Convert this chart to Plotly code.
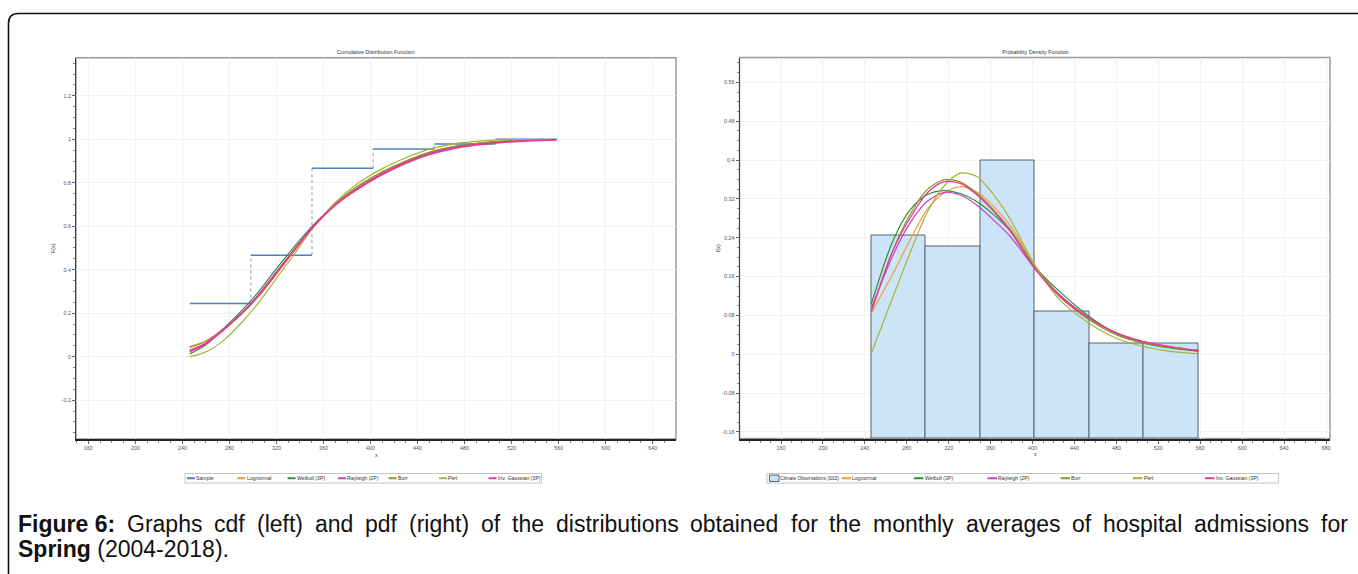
import plotly.graph_objects as go

W, H = 1358, 574

# ---------------- data ----------------
# histogram of the observations (bin edges in x units, relative frequencies)
bin_edges = [246.2, 298.2, 350.2, 402.2, 454.2, 506.2, 558.2]
hist_freq = [0.2444, 0.2222, 0.4000, 0.0889, 0.0222, 0.0222]
# empirical cumulative levels of the sample at each bin
sample_cdf = [0.2444, 0.4667, 0.8667, 0.9556, 0.9778, 1.0000]

# fitted cumulative distribution functions
x_cdf = [246.2, 260, 275, 290, 305, 320, 335, 350, 370, 390, 410, 430, 450, 470, 490, 510, 530, 558.2]
cdf_lognormal = [0.042, 0.070, 0.127, 0.195, 0.280, 0.380, 0.485, 0.590, 0.705, 0.785, 0.850, 0.900, 0.940, 0.965, 0.980, 0.989, 0.994, 0.998]
cdf_weibull3p = [0.013, 0.055, 0.130, 0.210, 0.300, 0.405, 0.505, 0.598, 0.700, 0.778, 0.842, 0.895, 0.936, 0.963, 0.980, 0.990, 0.996, 0.999]
cdf_rayleigh2p = [0.023, 0.058, 0.125, 0.198, 0.287, 0.390, 0.492, 0.592, 0.700, 0.777, 0.842, 0.895, 0.937, 0.962, 0.978, 0.987, 0.994, 0.999]
cdf_burr = [0.045, 0.072, 0.128, 0.195, 0.280, 0.382, 0.487, 0.590, 0.705, 0.787, 0.850, 0.900, 0.940, 0.966, 0.981, 0.990, 0.995, 0.999]
cdf_pert = [0.000, 0.022, 0.075, 0.155, 0.250, 0.360, 0.470, 0.585, 0.710, 0.800, 0.865, 0.915, 0.955, 0.978, 0.990, 0.997, 0.999, 1.000]
cdf_invgauss3p = [0.028, 0.062, 0.124, 0.197, 0.285, 0.387, 0.490, 0.590, 0.698, 0.775, 0.838, 0.890, 0.930, 0.957, 0.974, 0.985, 0.992, 0.997]

# fitted probability density functions (scaled to the histogram)
x_pdf = [246.2, 267, 283, 299, 315, 331, 347, 363, 379, 402, 426, 454, 480, 506, 531, 558.2]
pdf_lognormal = [0.085, 0.167, 0.235, 0.297, 0.331, 0.345, 0.334, 0.304, 0.264, 0.184, 0.122, 0.076, 0.044, 0.026, 0.016, 0.008]
pdf_weibull3p = [0.104, 0.235, 0.297, 0.328, 0.337, 0.331, 0.314, 0.287, 0.253, 0.180, 0.129, 0.078, 0.043, 0.023, 0.013, 0.006]
pdf_rayleigh2p = [0.095, 0.205, 0.270, 0.314, 0.333, 0.328, 0.307, 0.276, 0.242, 0.177, 0.122, 0.074, 0.043, 0.025, 0.015, 0.007]
pdf_burr = [0.088, 0.215, 0.287, 0.338, 0.359, 0.355, 0.331, 0.297, 0.256, 0.181, 0.119, 0.071, 0.040, 0.023, 0.014, 0.008]
pdf_pert = [0.002, 0.119, 0.208, 0.290, 0.345, 0.373, 0.366, 0.328, 0.277, 0.184, 0.112, 0.064, 0.033, 0.016, 0.006, 0.001]
pdf_invgauss3p = [0.088, 0.215, 0.280, 0.331, 0.355, 0.352, 0.328, 0.294, 0.253, 0.177, 0.119, 0.074, 0.044, 0.026, 0.016, 0.008]

cdf_ticks = [-0.2, 0, 0.2, 0.4, 0.6, 0.8, 1, 1.2]
cdf_ticktext = ["-0.2", "0", "0.2", "0.4", "0.6", "0.8", "1", "1.2"]
pdf_ticks = [-0.16, -0.08, 0, 0.08, 0.16, 0.24, 0.32, 0.4, 0.48, 0.56]
pdf_ticktext = ["-0.16", "-0.08", "0", "0.08", "0.16", "0.24", "0.32", "0.4", "0.48", "0.56"]
x_ticks_left = [160, 200, 240, 280, 320, 360, 400, 440, 480, 520, 560, 600, 640]
x_ticks_right = [160, 200, 240, 280, 320, 360, 400, 440, 480, 520, 560, 600, 640, 680]

series_names = ["Lognormal", "Weibull (3P)", "Rayleigh (2P)", "Burr", "Pert", "Inv. Gaussian (3P)"]
series_colors = ["#f59a3a", "#2a8f35", "#c83fc8", "#8a9628", "#a6b23c", "#e8369a"]
series_widths = [1.2, 1.2, 1.2, 1.2, 1.2, 1.8]
cdf_series = [cdf_lognormal, cdf_weibull3p, cdf_rayleigh2p, cdf_burr, cdf_pert, cdf_invgauss3p]
pdf_series = [pdf_lognormal, pdf_weibull3p, pdf_rayleigh2p, pdf_burr, pdf_pert, pdf_invgauss3p]

caption_words = ["Figure 6:", "Graphs", "cdf", "(left)", "and", "pdf", "(right)", "of", "the",
                 "distributions", "obtained", "for", "the", "monthly", "averages", "of",
                 "hospital", "admissions", "for"]
caption_line2 = "<b>Spring</b> (2004-2018)."

SAMPLE_COLOR = "#4f7fbd"
BAR_FILL = "#cce4f8"
BAR_LINE = "#56616c"

X1_RANGE = [149.5, 659.8]
Y1_RANGE = [-0.3786, 1.3753]
X2_RANGE = [120.4, 683.8]
Y2_RANGE = [-0.1734, 0.6111]

FONT = "Liberation Sans, Arial, sans-serif"
SMALL = 5.4        # chart text size
LEG = 5.2          # legend text size
CAP = 23           # caption size

# advance widths (1/1000 em) of Liberation Sans / Arial, used to justify the caption
REG_W = {" ": 278, "G": 778, "r": 333, "a": 556, "p": 556, "h": 556, "s": 500, "c": 500,
         "d": 556, "f": 278, "(": 333, ")": 333, "l": 222, "e": 556, "t": 278, "n": 556,
         "i": 222, "g": 556, "o": 556, "u": 556, "b": 556, "m": 833, "y": 500, "v": 500}
BOLD_W = {" ": 278, "F": 611, "i": 278, "g": 611, "u": 611, "r": 389, "e": 556, "6": 556, ":": 333}


def fx(px):
    return px / W


def fy(py):
    return 1 - py / H


def str_width(s, size, bold=False):
    table = BOLD_W if bold else REG_W
    return sum(table.get(ch, 556) for ch in s) * size / 1000.0


fig = go.Figure()

# ---------------- CDF panel ----------------
hx, hy, vx, vy = [], [], [], []
for i, lvl in enumerate(sample_cdf):
    hx += [bin_edges[i], bin_edges[i + 1], None]
    hy += [lvl, lvl, None]
    if i > 0:
        vx += [bin_edges[i], bin_edges[i], None]
        vy += [sample_cdf[i - 1], lvl, None]

fig.add_trace(go.Scatter(x=vx, y=vy, mode="lines", xaxis="x", yaxis="y",
                         line=dict(color="#8098ba", width=1, dash="dot"),
                         showlegend=False, hoverinfo="skip"))
fig.add_trace(go.Scatter(x=hx, y=hy, mode="lines", xaxis="x", yaxis="y", name="Sample",
                         line=dict(color=SAMPLE_COLOR, width=1.5), showlegend=False))
for name, col, wd, ys in zip(series_names, series_colors, series_widths, cdf_series):
    fig.add_trace(go.Scatter(x=x_cdf, y=ys, mode="lines", xaxis="x", yaxis="y", name=name,
                             line=dict(color=col, width=wd, shape="spline", smoothing=0.8),
                             showlegend=False))

# ---------------- PDF panel ----------------
centers = [(bin_edges[i] + bin_edges[i + 1]) / 2 for i in range(len(hist_freq))]
widths = [bin_edges[i + 1] - bin_edges[i] for i in range(len(hist_freq))]
fig.add_trace(go.Bar(x=centers, y=[v - Y2_RANGE[0] for v in hist_freq], base=Y2_RANGE[0],
                     width=widths, xaxis="x2", yaxis="y2", name="Climate Observations (S02)",
                     marker=dict(color=BAR_FILL, line=dict(color=BAR_LINE, width=1)),
                     customdata=hist_freq, hovertemplate="%{customdata}<extra></extra>",
                     showlegend=False))
for name, col, ys in zip(series_names, series_colors, pdf_series):
    fig.add_trace(go.Scatter(x=x_pdf, y=ys, mode="lines", xaxis="x2", yaxis="y2", name=name,
                             line=dict(color=col, width=1.2, shape="spline", smoothing=0.8),
                             showlegend=False))

tickfont = dict(family=FONT, size=SMALL, color="#555")
common_x = dict(showgrid=True, gridcolor="#f1f1f1", gridwidth=1, zeroline=False,
                showline=True, linecolor="#222", linewidth=2, ticks="outside", ticklen=3,
                tickcolor="#666", tickfont=tickfont, tickmode="array",
                minor=dict(ticks="outside", ticklen=2, tickcolor="#888", dtick=10, showgrid=False))
common_y = dict(showgrid=True, gridcolor="#f1f1f1", gridwidth=1, zeroline=False,
                showline=True, linecolor="#444", linewidth=1, ticks="outside", ticklen=3,
                tickcolor="#666", tickfont=tickfont, tickmode="array")

fig.update_layout(
    width=W, height=H, autosize=False,
    margin=dict(l=0, r=0, t=0, b=0, pad=0),
    paper_bgcolor="white", plot_bgcolor="white",
    showlegend=False, bargap=0,
    xaxis=dict(domain=[fx(76), fx(676)], range=X1_RANGE, anchor="y",
               tickvals=x_ticks_left, ticktext=[str(v) for v in x_ticks_left], **common_x),
    yaxis=dict(domain=[fy(439), fy(57.7)], range=Y1_RANGE, anchor="x",
               tickvals=cdf_ticks, ticktext=cdf_ticktext,
               minor=dict(ticks="outside", ticklen=2, tickcolor="#888", dtick=0.05, tick0=0, showgrid=False),
               **common_y),
    xaxis2=dict(domain=[fx(739.5), fx(1330)], range=X2_RANGE, anchor="y2",
                tickvals=x_ticks_right, ticktext=[str(v) for v in x_ticks_right], **common_x),
    yaxis2=dict(domain=[fy(438.5), fy(57.5)], range=Y2_RANGE, anchor="x2",
                tickvals=pdf_ticks, ticktext=pdf_ticktext,
                minor=dict(ticks="outside", ticklen=2, tickcolor="#888", dtick=0.02, tick0=0, showgrid=False),
                **common_y),
)

shapes = []
# gray frame around both plot areas
for xr, yr in (("x domain", "y domain"), ("x2 domain", "y2 domain")):
    shapes.append(dict(type="rect", xref=xr, yref=yr, x0=0, x1=1, y0=0, y1=1,
                       line=dict(color="#9a9a9a", width=1.5), layer="below"))

# outer rounded border of the figure panel
r = 10
path = (f"M {fx(8.5)},{fy(H + 2)} L {fx(8.5)},{fy(13.5 + r)} "
        f"Q {fx(8.5)},{fy(13.5)} {fx(8.5 + r)},{fy(13.5)} L {fx(W + 4)},{fy(13.5)}")
shapes.append(dict(type="path", xref="paper", yref="paper", path=path,
                   line=dict(color="#111", width=1.6)))

annotations = []


def text(x, y, s, size=SMALL, color="#333", xanchor="center", angle=0, family=FONT):
    annotations.append(dict(x=fx(x), y=fy(y), xref="paper", yref="paper", text=s,
                            showarrow=False, xanchor=xanchor, yanchor="middle", textangle=angle,
                            borderpad=0, borderwidth=0,
                            font=dict(family=family, size=size, color=color)))


# panel titles and axis titles
text(376, 52, "Cumulative Distribution Function")
text(1035, 52, "Probability Density Function")
text(53, 248, "F(x)", angle=-90)
text(718, 248, "f(x)", angle=-90)
text(376, 455, "x")
text(1035, 454, "x")

# legends
LEG_Y0, LEG_Y1 = 473.5, 483
LEG_YC = (LEG_Y0 + LEG_Y1) / 2


def legend_box(x0, x1):
    shapes.append(dict(type="rect", xref="paper", yref="paper", x0=fx(x0), x1=fx(x1),
                       y0=fy(LEG_Y1), y1=fy(LEG_Y0), fillcolor="white",
                       line=dict(color="#c4c4c4", width=1)))


def legend_line(x, col, label, seg=8):
    shapes.append(dict(type="line", xref="paper", yref="paper", x0=fx(x), x1=fx(x + seg),
                       y0=fy(LEG_YC), y1=fy(LEG_YC), line=dict(color=col, width=2)))
    text(x + seg + 1.2, LEG_YC, label, size=LEG, xanchor="left")


legend_box(185, 541.5)
left_pos = [187, 237.5, 287.5, 338, 388.5, 439, 488.5]
legend_line(left_pos[0], SAMPLE_COLOR, "Sample")
for p, name, col in zip(left_pos[1:], series_names, series_colors):
    legend_line(p, col, name)

legend_box(767, 1278.5)
shapes.append(dict(type="rect", xref="paper", yref="paper", x0=fx(769.5), x1=fx(779),
                   y0=fy(LEG_YC + 3.2), y1=fy(LEG_YC - 3.2), fillcolor=BAR_FILL,
                   line=dict(color=BAR_LINE, width=1)))
text(780.3, LEG_YC, "Climate Observations (S02)", size=4.8, xanchor="left")
right_pos = [841.5, 914, 987.5, 1060.5, 1133, 1205]
for p, name, col in zip(right_pos, series_names, series_colors):
    legend_line(p, col, name, seg=9.5)

# caption: first line justified between the panel margins, second line left aligned
CAP_X0, CAP_X1 = 18, 1348
word_w = [str_width(w, CAP, bold=(i == 0)) for i, w in enumerate(caption_words)]
gap = (CAP_X1 - CAP_X0 - sum(word_w)) / (len(caption_words) - 1)
xpos = CAP_X0
for i, (w, ww) in enumerate(zip(caption_words, word_w)):
    label = f"<b>{w}</b>" if i == 0 else w
    text(xpos, 524, label, size=CAP, color="#111", xanchor="left")
    xpos += ww + gap
text(CAP_X0, 549, caption_line2, size=CAP, color="#111", xanchor="left")

fig.update_layout(shapes=shapes, annotations=annotations)

fig.write_html("out.html")
